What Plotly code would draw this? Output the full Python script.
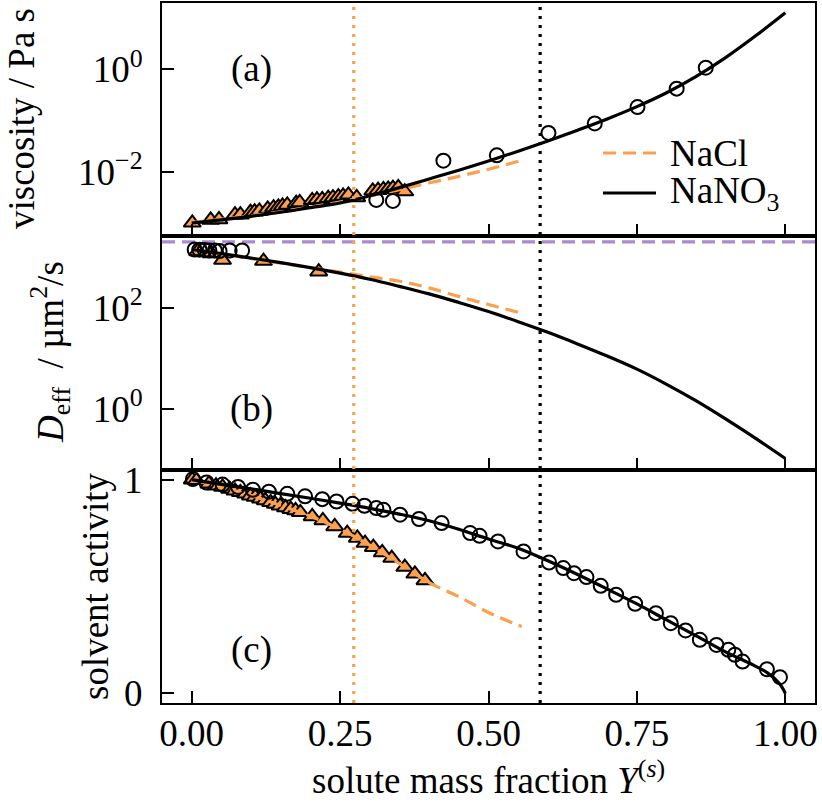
import plotly.graph_objects as go
from plotly.subplots import make_subplots

# ---------------- data ----------------
# (a) viscosity / Pa s
nano3_visc_x = [0.00, 0.05, 0.10, 0.15, 0.20, 0.25, 0.30, 0.35, 0.40, 0.45, 0.50,
                0.55, 0.60, 0.65, 0.70, 0.75, 0.80, 0.85, 0.90, 0.95, 1.00]
nano3_visc = [0.00100, 0.00115, 0.00135, 0.00162, 0.00200, 0.00245, 0.00339, 0.00490,
              0.00724, 0.0107, 0.0162, 0.0251, 0.0398, 0.0646, 0.107, 0.186, 0.347,
              0.724, 1.70, 4.47, 12.6]
nacl_visc_x = [0.00, 0.05, 0.10, 0.15, 0.20, 0.25, 0.30, 0.35, 0.40, 0.45, 0.50, 0.556]
nacl_visc = [0.00102, 0.00118, 0.00138, 0.00166, 0.00204, 0.00257, 0.00339, 0.00447,
             0.00603, 0.00813, 0.0112, 0.0166]
nano3_visc_obs_x = [0.311, 0.339, 0.424, 0.514, 0.601, 0.679, 0.751, 0.817, 0.866]
nano3_visc_obs = [0.00282, 0.00269, 0.0164, 0.0209, 0.0571, 0.0873, 0.182, 0.417, 1.07]
nacl_visc_obs_x = [0.001, 0.032, 0.046, 0.073, 0.082, 0.099, 0.106, 0.114, 0.128, 0.138,
                   0.146, 0.153, 0.161, 0.176, 0.182, 0.203, 0.211, 0.220, 0.230, 0.238,
                   0.247, 0.255, 0.264, 0.278, 0.305, 0.314, 0.323, 0.331, 0.339, 0.348,
                   0.359]
nacl_visc_obs = [0.00101, 0.00115, 0.00117, 0.00145, 0.00145, 0.00162, 0.00166, 0.00172,
                 0.00188, 0.00200, 0.00206, 0.00215, 0.00225, 0.00243, 0.00251, 0.00277,
                 0.00286, 0.00290, 0.00304, 0.00314, 0.00328, 0.00338, 0.00354, 0.00316,
                 0.00424, 0.00437, 0.00450, 0.00465, 0.00479, 0.00493, 0.00410]

# (b) effective diffusivity / um^2/s
nano3_diff_x = nano3_visc_x
nano3_diff = [1445, 1202, 977, 794, 631, 490, 372, 269, 191, 129, 85.1, 53.7, 33.1,
              19.5, 11.2, 6.17, 3.09, 1.45, 0.631, 0.263, 0.105]
nacl_diff_x = nacl_visc_x
nacl_diff = [1445, 1175, 955, 776, 631, 513, 417, 339, 251, 170, 117.5, 79.4]
nano3_diff_obs_x = [0.005, 0.013, 0.022, 0.030, 0.039, 0.047, 0.064, 0.085]
nano3_diff_obs = [1445, 1429, 1413, 1380, 1380, 1349, 1380, 1380]
nacl_diff_obs_x = [0.010, 0.033, 0.052, 0.121, 0.214]
nacl_diff_obs = [1318, 1202, 891, 851, 525]
water_self_diff = 2050

# (c) solvent activity
nano3_act_x = [0.00, 0.05, 0.10, 0.15, 0.20, 0.25, 0.30, 0.35, 0.40, 0.45, 0.50, 0.55,
               0.60, 0.65, 0.70, 0.75, 0.80, 0.85, 0.90, 0.94, 0.97, 0.99, 1.00]
nano3_act = [1.0, 0.978, 0.957, 0.935, 0.913, 0.890, 0.866, 0.839, 0.808, 0.768, 0.722,
             0.679, 0.620, 0.556, 0.488, 0.418, 0.343, 0.268, 0.192, 0.140, 0.095, 0.045, 0.0]
nacl_act_x = nacl_visc_x
nacl_act = [1.0, 0.967, 0.926, 0.879, 0.829, 0.768, 0.693, 0.607, 0.518, 0.452, 0.378, 0.312]
nano3_act_obs_x = [0.002, 0.025, 0.052, 0.078, 0.103, 0.130, 0.161, 0.191, 0.220, 0.244,
                   0.271, 0.291, 0.311, 0.323, 0.351, 0.383, 0.421, 0.469, 0.485, 0.516,
                   0.559, 0.602, 0.626, 0.644, 0.665, 0.689, 0.715, 0.747, 0.782, 0.807,
                   0.832, 0.856, 0.884, 0.904, 0.915, 0.928, 0.969, 0.991]
nano3_act_obs = [1.003, 0.987, 0.977, 0.966, 0.953, 0.944, 0.934, 0.922, 0.909, 0.898,
                 0.887, 0.878, 0.867, 0.859, 0.836, 0.816, 0.797, 0.750, 0.737, 0.711,
                 0.664, 0.612, 0.586, 0.562, 0.544, 0.503, 0.461, 0.419, 0.375, 0.328,
                 0.294, 0.250, 0.226, 0.203, 0.180, 0.148, 0.112, 0.075]
nacl_act_obs_x = [0.001, 0.008, 0.029, 0.041, 0.052, 0.064, 0.073, 0.082, 0.091, 0.099,
                  0.107, 0.116, 0.124, 0.133, 0.141, 0.149, 0.158, 0.167, 0.175, 0.183,
                  0.203, 0.221, 0.241, 0.262, 0.279, 0.292, 0.306, 0.321, 0.337, 0.359,
                  0.376, 0.393]
nacl_act_obs = [1.0, 0.997, 0.981, 0.972, 0.966, 0.956, 0.948, 0.941, 0.934, 0.925,
                0.919, 0.911, 0.903, 0.894, 0.886, 0.878, 0.870, 0.862, 0.856, 0.847,
                0.828, 0.809, 0.781, 0.750, 0.727, 0.703, 0.684, 0.659, 0.633, 0.591,
                0.559, 0.528]

# characteristic compositions (vertical guides)
nacl_marker_y = 0.273
nano3_marker_y = 0.587

# ---------------- style ----------------
ORANGE = "#fba04e"
BLACK = "#000000"
PURPLE = "#a98bcf"
FONT = "Liberation Serif"
FS = 37
X_RANGE = [-0.05, 1.05]

fig = make_subplots(rows=3, cols=1, shared_xaxes=True, vertical_spacing=0)


def add_panel(row, tri_x, tri_y, nacl_x, nacl_y, circ_x, circ_y, nano3_x, nano3_y):
    fig.add_trace(go.Scatter(x=tri_x, y=tri_y, mode="markers", showlegend=False,
                             marker=dict(symbol="triangle-up", size=15, color=ORANGE,
                                         line=dict(color=BLACK, width=2))),
                  row=row, col=1)
    fig.add_trace(go.Scatter(x=nacl_x, y=nacl_y, mode="lines", showlegend=False,
                             line=dict(color=ORANGE, width=3.2, dash="13px,7px",
                                       shape="spline", smoothing=1.0)),
                  row=row, col=1)
    fig.add_trace(go.Scatter(x=circ_x, y=circ_y, mode="markers", showlegend=False,
                             marker=dict(symbol="circle-open", size=14, color=BLACK,
                                         line=dict(color=BLACK, width=2))),
                  row=row, col=1)
    fig.add_trace(go.Scatter(x=nano3_x, y=nano3_y, mode="lines", showlegend=False,
                             line=dict(color=BLACK, width=3.2, shape="spline",
                                       smoothing=1.0)),
                  row=row, col=1)


add_panel(1, nacl_visc_obs_x, nacl_visc_obs, nacl_visc_x, nacl_visc,
          nano3_visc_obs_x, nano3_visc_obs, nano3_visc_x, nano3_visc)
# reference diffusivity of pure water
fig.add_trace(go.Scatter(x=X_RANGE, y=[water_self_diff, water_self_diff], mode="lines",
                         showlegend=False, line=dict(color=PURPLE, width=3.2, dash="13px,7px")),
              row=2, col=1)
add_panel(2, nacl_diff_obs_x, nacl_diff_obs, nacl_diff_x, nacl_diff,
          nano3_diff_obs_x, nano3_diff_obs, nano3_diff_x, nano3_diff)
add_panel(3, nacl_act_obs_x, nacl_act_obs, nacl_act_x, nacl_act,
          nano3_act_obs_x, nano3_act_obs, nano3_act_x, nano3_act)

# vertical guides across all panels
for xv, col in [(nacl_marker_y, ORANGE), (nano3_marker_y, BLACK)]:
    fig.add_shape(type="line", xref="x", yref="paper", x0=xv, x1=xv, y0=0, y1=1,
                  line=dict(color=col, width=3.2, dash="3px,6px"), layer="above")

axis_common = dict(showline=True, linecolor=BLACK, linewidth=2, mirror=True,
                   ticks="inside", ticklen=12, tickwidth=2, tickcolor=BLACK,
                   showgrid=False, zeroline=False, automargin=False,
                   tickfont=dict(family=FONT, size=FS, color=BLACK))

for r in (1, 2, 3):
    fig.update_xaxes(range=X_RANGE, tickvals=[0, 0.25, 0.5, 0.75, 1.0],
                     ticktext=["0.00", "0.25", "0.50", "0.75", "1.00"],
                     showticklabels=(r == 3), ticklabelstandoff=-3,
                     **axis_common, row=r, col=1)

fig.update_yaxes(type="log", range=[-3.26, 1.29], tickvals=[0.01, 1],
                 ticktext=["10<sup>−2</sup>", "10<sup>0</sup>"], ticklabelstandoff=10,
                 **axis_common, row=1, col=1)
fig.update_yaxes(type="log", range=[-1.2, 3.42], tickvals=[1, 100],
                 ticktext=["10<sup>0</sup>", "10<sup>2</sup>"], ticklabelstandoff=10,
                 **axis_common, row=2, col=1)
fig.update_yaxes(range=[-0.046, 1.047], tickvals=[0, 1], ticktext=["0", "1"],
                 ticklabelstandoff=10, **axis_common, row=3, col=1)

L, R, T, B, W, H = 162, 7, 3, 100, 822, 803
PW, PH = W - L - R, H - T - B


def px(x):
    return (x - L) / PW


def py(y):
    return (H - B - y) / PH


ann = []
txt = dict(family=FONT, size=FS, color=BLACK)
# panel tags
for ref, yv, tag in [("y", 0, "(a)"), ("y2", 0, "(b)"), ("y3", 0.2, "(c)")]:
    ann.append(dict(x=0.1, y=yv, xref="x", yref=ref, text=tag, showarrow=False,
                    font=txt, xanchor="center", yanchor="middle"))
# axis titles
ann.append(dict(x=px(22), y=py(119), xref="paper", yref="paper", textangle=-90,
                text="viscosity / Pa s", showarrow=False, font=txt,
                xanchor="center", yanchor="middle"))
ann.append(dict(x=px(50), y=py(352), xref="paper", yref="paper", textangle=-90,
                text="<i>D</i><sub>eff</sub>  / µm<sup>2</sup>/s", showarrow=False, font=txt,
                xanchor="center", yanchor="middle"))
ann.append(dict(x=px(95), y=py(586), xref="paper", yref="paper", textangle=-90,
                text="solvent activity", showarrow=False, font=txt,
                xanchor="center", yanchor="middle"))
ann.append(dict(x=0.5, y=py(777), xref="paper", yref="paper",
                text="solute mass fraction <i>Y</i><sup>(<i>s</i>)</sup>", showarrow=False,
                font=txt, xanchor="center", yanchor="middle"))

# legend
for ypx, col, dash, name in [(153, ORANGE, "13px,7px", "NaCl"),
                             (193, BLACK, "solid", "NaNO<sub>3</sub>")]:
    fig.add_shape(type="line", xref="paper", yref="paper", x0=px(603), x1=px(656),
                  y0=py(ypx), y1=py(ypx), line=dict(color=col, width=3.2, dash=dash))
    ann.append(dict(x=px(668), y=py(ypx), xref="paper", yref="paper", text=name,
                    showarrow=False, font=txt, xanchor="left", yanchor="middle"))

fig.update_layout(template="none", width=W, height=H, margin=dict(l=L, r=R, t=T, b=B),
                  paper_bgcolor="white", plot_bgcolor="white", showlegend=False,
                  annotations=ann)

fig.write_html("out.html")
